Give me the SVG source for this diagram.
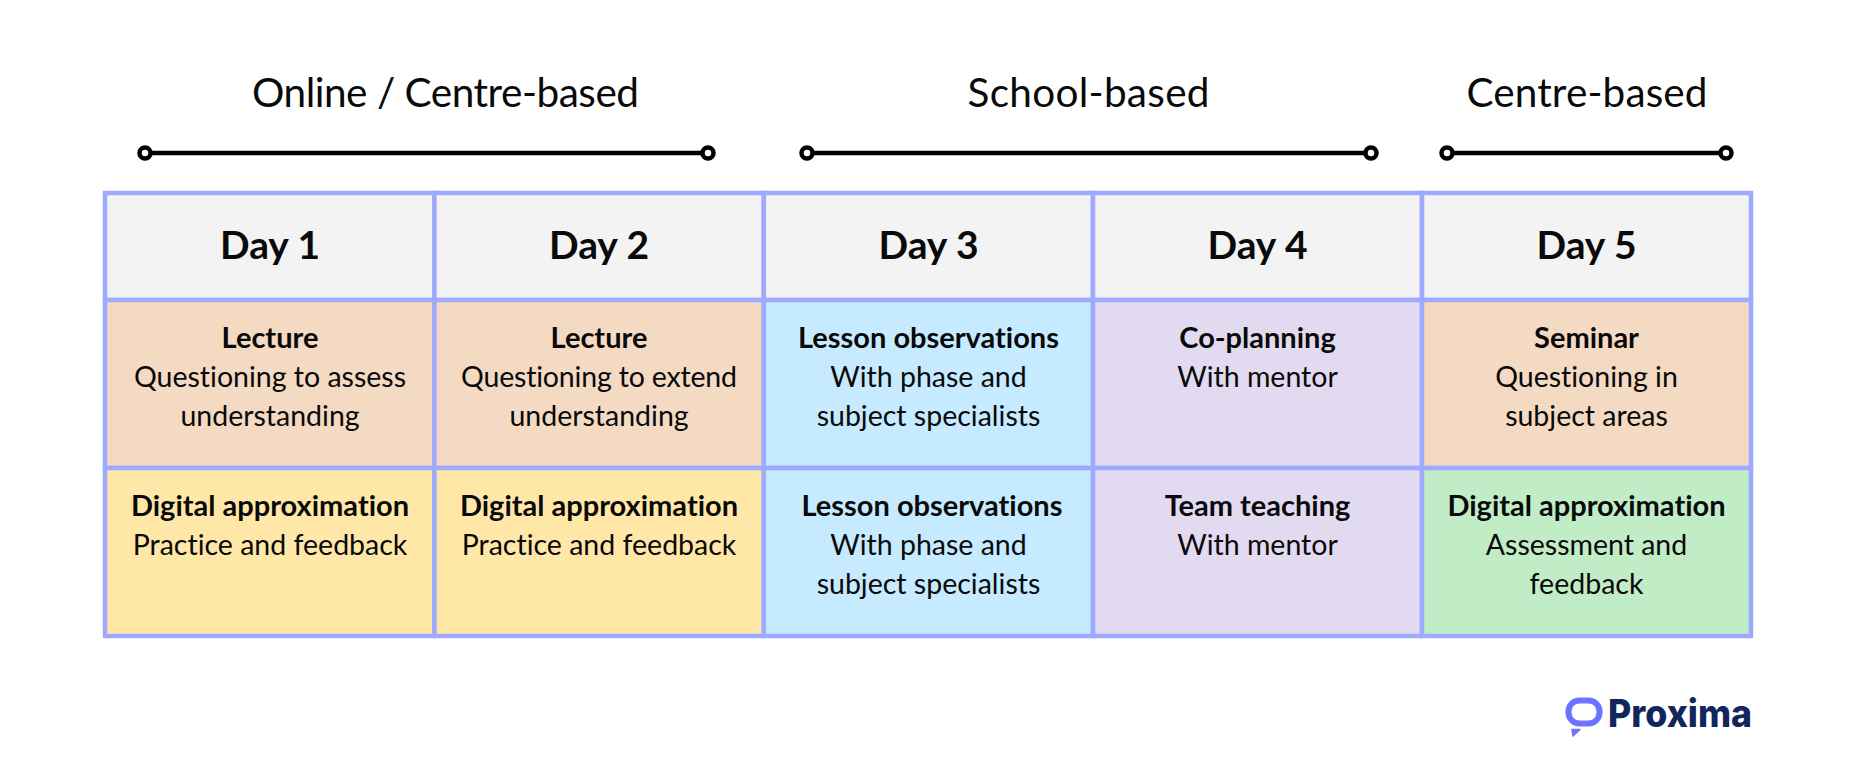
<svg xmlns="http://www.w3.org/2000/svg" width="1856" height="784" viewBox="0 0 1856 784">
<style>
text{font-family:"Lato","Noto Sans",sans-serif;fill:#0a0a0a;text-anchor:middle;font-variant-ligatures:none}
.t{font-size:40.500px}
.d{font-size:39px;font-weight:700}
.b{font-size:29px;font-weight:700}
.r{font-size:28.500px}
.c{stroke:#9DAAFF;stroke-width:4.5}
.h{fill:#F3F3F3}.o{fill:#F4D9C3}.s{fill:#C6EAFF}.p{fill:#E2DAF0}.y{fill:#FFE7A8}.g{fill:#C1EDC6}
.l{stroke:#000;stroke-width:4.500;fill:none}
.e{stroke:#000;stroke-width:4.5;fill:#fff}
</style>
<g id="connectors">
<line class="l" x1="145" y1="153" x2="708" y2="153"/><circle class="e" cx="145" cy="153" r="5.5"/><circle class="e" cx="708" cy="153" r="5.5"/>
<line class="l" x1="807" y1="153" x2="1371" y2="153"/><circle class="e" cx="807" cy="153" r="5.5"/><circle class="e" cx="1371" cy="153" r="5.5"/>
<line class="l" x1="1447" y1="153" x2="1726" y2="153"/><circle class="e" cx="1447" cy="153" r="5.5"/><circle class="e" cx="1726" cy="153" r="5.5"/>
</g>
<g id="phase-labels">
<text class="t" x="445.500" y="107" textLength="387">Online / Centre-based</text>
<text class="t" x="1088.500" y="107" textLength="242">School-based</text>
<text class="t" x="1587" y="107" textLength="241">Centre-based</text>
</g>
<g id="day1"><rect class="c h" x="105" y="193" width="329.400" height="107"/><text class="d" x="270" y="259">Day 1</text></g>
<g id="day2"><rect class="c h" x="434.400" y="193" width="329.400" height="107"/><text class="d" x="599" y="259">Day 2</text></g>
<g id="day3"><rect class="c h" x="763.800" y="193" width="329.200" height="107"/><text class="d" x="928.500" y="259">Day 3</text></g>
<g id="day4"><rect class="c h" x="1093" y="193" width="329" height="107"/><text class="d" x="1257.500" y="259">Day 4</text></g>
<g id="day5"><rect class="c h" x="1422" y="193" width="329" height="107"/><text class="d" x="1586.500" y="259">Day 5</text></g>
<g id="d1a"><rect class="c o" x="105" y="300" width="329.400" height="168"/><text class="b" x="270" y="348">Lecture</text><text class="r" x="270" y="387">Questioning to assess</text><text class="r" x="270" y="426">understanding</text></g>
<g id="d2a"><rect class="c o" x="434.400" y="300" width="329.400" height="168"/><text class="b" x="599" y="348">Lecture</text><text class="r" x="599" y="387" textLength="276">Questioning to extend</text><text class="r" x="599" y="426">understanding</text></g>
<g id="d3a"><rect class="c s" x="763.800" y="300" width="329.200" height="168"/><text class="b" x="928.500" y="348">Lesson observations</text><text class="r" x="928.500" y="387">With phase and</text><text class="r" x="928.500" y="426">subject specialists</text></g>
<g id="d4a"><rect class="c p" x="1093" y="300" width="329" height="168"/><text class="b" x="1257.500" y="348">Co-planning</text><text class="r" x="1257.500" y="387">With mentor</text></g>
<g id="d5a"><rect class="c o" x="1422" y="300" width="329" height="168"/><text class="b" x="1586.500" y="348">Seminar</text><text class="r" x="1586.500" y="387">Questioning in</text><text class="r" x="1586.500" y="426">subject areas</text></g>
<g id="d1b"><rect class="c y" x="105" y="468" width="329.400" height="168"/><text class="b" x="270" y="516">Digital approximation</text><text class="r" x="270" y="555">Practice and feedback</text></g>
<g id="d2b"><rect class="c y" x="434.400" y="468" width="329.400" height="168"/><text class="b" x="599" y="516">Digital approximation</text><text class="r" x="599" y="555">Practice and feedback</text></g>
<g id="d3b"><rect class="c s" x="763.800" y="468" width="329.200" height="168"/><text class="b" x="932" y="516">Lesson observations</text><text class="r" x="928.500" y="555">With phase and</text><text class="r" x="928.500" y="594">subject specialists</text></g>
<g id="d4b"><rect class="c p" x="1093" y="468" width="329" height="168"/><text class="b" x="1257.500" y="516">Team teaching</text><text class="r" x="1257.500" y="555">With mentor</text></g>
<g id="d5b"><rect class="c g" x="1422" y="468" width="329" height="168"/><text class="b" x="1586.500" y="516">Digital approximation</text><text class="r" x="1586.500" y="555">Assessment and</text><text class="r" x="1586.500" y="594">feedback</text></g>
<g id="logo">
<rect x="1568.500" y="700.500" width="31" height="23" rx="11" fill="none" stroke="#6F72FF" stroke-width="6"/>
<path d="M1572 729.500L1580 729.500L1573 736Z" fill="#6F72FF" stroke="#6F72FF" stroke-width="1.500" stroke-linejoin="round"/>
<text x="1680" y="726.500" textLength="144" lengthAdjust="spacingAndGlyphs" style="font-family:Inter,Lato,sans-serif;font-size:38px;font-weight:800;fill:#12265E">Proxima</text>
</g>
</svg>
